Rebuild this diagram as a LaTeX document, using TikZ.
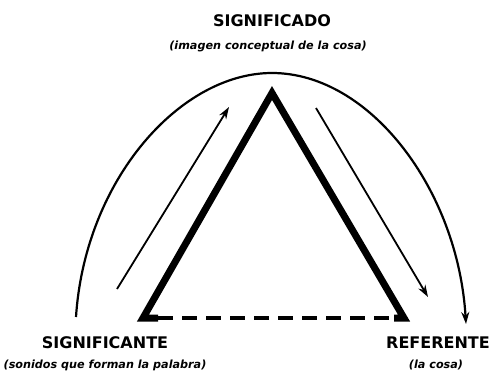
\documentclass[tikz,border=0pt]{standalone}
\usepackage{fontspec}
\setmainfont{DejaVu Sans}
\usetikzlibrary{arrows.meta}
\begin{document}
\begin{tikzpicture}[x=1pt,y=-1pt,
  title/.style={font=\fontsize{16}{18}\selectfont\bfseries, inner sep=0pt},
  sub/.style={font=\fontsize{11.2}{13}\selectfont\bfseries\itshape, inner sep=0pt},
  tri/.style={line width=7pt, line join=miter, line cap=butt},
  base/.style={line width=4.5pt, dash pattern=on 15pt off 9pt},
  thinarrow/.style={line width=1.8pt, -{Stealth[length=12pt,width=8pt]}},
  arcline/.style={line width=2.2pt, -{Stealth[length=12pt,width=8pt]}}]
\useasboundingbox (0,0) rectangle (493,375);
% labels
\node[title] (sdo) at (272,21) {SIGNIFICADO};
\node[sub] (sdosub) at (268,46) {(imagen conceptual de la cosa)};
\node[title] (ste) at (105,343) {SIGNIFICANTE};
\node[sub] (stesub) at (105,365) {(sonidos que forman la palabra)};
\node[title] (ref) at (438,343) {REFERENTE};
\node[sub] (refsub) at (436,365) {(la cosa)};
% triangle vertices
\coordinate (A) at (272,93);
\coordinate (L) at (143,318);
\coordinate (R) at (404,318);
\coordinate (Lb) at (158,318);
\draw[tri] (Lb) -- (L) -- (A) -- (R) -- ++(-10,0);
\draw[base] (Lb) -- (R);
% thin arrows
\coordinate (a1) at (117,289);
\coordinate (a2) at (229,107);
\coordinate (b1) at (316,108);
\coordinate (b2) at (428,297);
\draw[thinarrow] (a1) -- (a2);
\draw[thinarrow] (b1) -- (b2);
% arc
\coordinate (c1) at (76,317);
\coordinate (ctop) at (272,73);
\coordinate (c2) at (466,324);
\draw[arcline] (c1) .. controls (85,180) and (180,73) .. (ctop) .. controls (370,73) and (458,190) .. (c2);
\end{tikzpicture}
\end{document}
